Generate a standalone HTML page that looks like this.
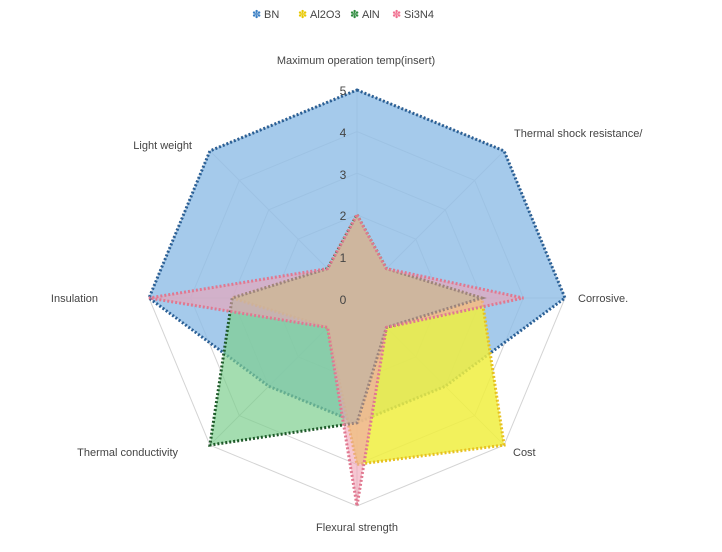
<!DOCTYPE html>
<html><head><style>
body{margin:0;background:#fff;}
svg text{font-family:"Liberation Sans",sans-serif;fill:#444;}
</style></head><body>
<svg width="722" height="547" viewBox="0 0 722 547" xmlns="http://www.w3.org/2000/svg">
<g id="grid" stroke="#d4d4d4" fill="none" stroke-width="1"></g>
<g id="series"></g>
<g font-size="11">
<text x="356" y="64" text-anchor="middle">Maximum operation temp(insert)</text>
<text x="514" y="137">Thermal shock resistance/</text>
<text x="578" y="302">Corrosive.</text>
<text x="513" y="456">Cost</text>
<text x="357" y="531" text-anchor="middle">Flexural strength</text>
<text x="178" y="456" text-anchor="end">Thermal conductivity</text>
<text x="98" y="302" text-anchor="end">Insulation</text>
<text x="192" y="149" text-anchor="end">Light weight</text>
</g>
<g font-size="12" text-anchor="middle">
<text x="343" y="95">5</text><text x="343" y="137">4</text><text x="343" y="179">3</text>
<text x="343" y="220">2</text><text x="343" y="262">1</text><text x="343" y="304">0</text>
</g>
<g font-size="11">
<text x="252" y="18" style="fill:#3a7fc4">✽</text><text x="264" y="18">BN</text>
<text x="298" y="18" style="fill:#e8c800">✽</text><text x="310" y="18">Al2O3</text>
<text x="350" y="18" style="fill:#2e8b3e">✽</text><text x="362" y="18">AlN</text>
<text x="392" y="18" style="fill:#f07090">✽</text><text x="404" y="18">Si3N4</text>
</g>
</svg>
<script>
const cx=357,cy=298,u=41.6;
function pt(i,v){const a=-Math.PI/2+i*Math.PI/4;return [cx+Math.cos(a)*v*u,cy+Math.sin(a)*v*u];}
const ns="http://www.w3.org/2000/svg";
const g=document.getElementById('grid');
for(let r=1;r<=5;r++){const p=document.createElementNS(ns,'polygon');p.setAttribute('points',[...Array(8).keys()].map(i=>pt(i,r).join(',')).join(' '));g.appendChild(p);}
for(let i=0;i<8;i++){const l=document.createElementNS(ns,'line');const [x,y]=pt(i,5);l.setAttribute('x1',cx);l.setAttribute('y1',cy);l.setAttribute('x2',x);l.setAttribute('y2',y);g.appendChild(l);}
const S=[
 [[5,5,5,3,3,3,5,5],'#8fbde6','#2a5f95',0.8],
 [[2,1,3,5,4,1,3,1],'#f0ee40','#e6c020',0.85],
 [[2,1,3,1,3,5,3,1],'#7dcf8e','#1f5a2a',0.7],
 [[2,1,4,1,5,1,5,1],'#f0a0b4','#e07890',0.6]
];
const s=document.getElementById('series');
S.forEach(([d,f,st,op])=>{const p=document.createElementNS(ns,'polygon');p.setAttribute('points',d.map((v,i)=>pt(i,v).join(',')).join(' '));p.setAttribute('fill',f);p.setAttribute('fill-opacity',op);p.setAttribute('stroke',st);p.setAttribute('stroke-width','3');p.setAttribute('stroke-dasharray','2 2');s.appendChild(p);});
</script>
</body></html>
